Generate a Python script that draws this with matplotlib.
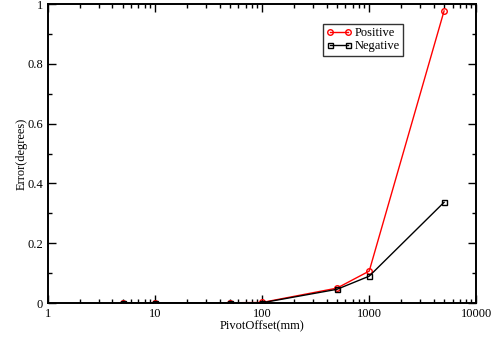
import matplotlib
matplotlib.use('Agg')
import matplotlib.pyplot as plt
from matplotlib.ticker import MultipleLocator, LogLocator, NullFormatter

plt.rcParams['font.family'] = ['Liberation Serif', 'DejaVu Serif']

offsets = [5, 10, 50, 100, 500, 1000, 5000]
positive = [0.001, 0.001, 0.001, 0.002, 0.050, 0.107, 0.977]
negative = [0.001, 0.001, 0.001, 0.001, 0.046, 0.090, 0.337]

fig = plt.figure(figsize=(4.98, 3.39), dpi=100)
ax = fig.add_axes([0.0964, 0.106, 0.86, 0.882])

ax.plot(offsets, positive, color='red', marker='o', markersize=4, markerfacecolor='none',
        markeredgecolor='red', linewidth=1, label='Positive')
ax.plot(offsets, negative, color='black', marker='s', markersize=3.6, markerfacecolor='none',
        markeredgecolor='black', linewidth=1, label='Negative')

ax.set_xscale('log')
ax.set_xlim(1, 10000)
ax.set_ylim(0, 1)
ax.yaxis.set_major_locator(MultipleLocator(0.2))
ax.yaxis.set_minor_locator(MultipleLocator(0.1))
ax.xaxis.set_minor_locator(LogLocator(base=10, subs=range(2, 10)))
ax.xaxis.set_minor_formatter(NullFormatter())
ax.set_xticks([1, 10, 100, 1000, 10000])
ax.set_xticklabels(['1', '10', '100', '1000', '10000'])
ax.set_yticks([0, 0.2, 0.4, 0.6, 0.8, 1])
ax.set_yticklabels(['0', '0.2', '0.4', '0.6', '0.8', '1'])

ax.tick_params(which='both', direction='in', top=True, right=True, labelsize=9, width=1)
ax.tick_params(which='major', length=6)
ax.tick_params(which='minor', length=3)
for s in ax.spines.values():
    s.set_linewidth(1.4)

ax.set_xlabel('PivotOffset(mm)', fontsize=9, labelpad=0)
ax.set_ylabel('Error(degrees)', fontsize=9, labelpad=0)

leg = ax.legend(loc='upper left', bbox_to_anchor=(0.643, 0.933), fontsize=9, frameon=True,
                fancybox=False, edgecolor='black', handlelength=2.0, numpoints=2,
                borderpad=0.25, labelspacing=0.1, handletextpad=0.25, borderaxespad=0)
leg.get_frame().set_linewidth(1)

fig.savefig('out.png', dpi=100)
